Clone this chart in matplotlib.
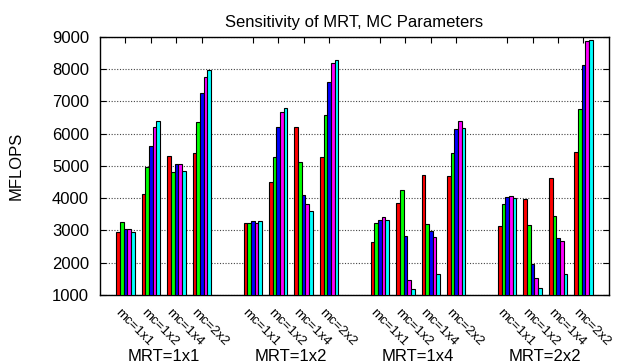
import matplotlib
matplotlib.use("Agg")
import matplotlib.pyplot as plt
import numpy as np

plt.rcParams["font.family"] = ["Liberation Sans", "DejaVu Sans"]

# Chart data
mrt_groups = ["MRT=1x1", "MRT=1x2", "MRT=1x4", "MRT=2x2"]
mc_labels = ["mc=1x1", "mc=1x2", "mc=1x4", "mc=2x2"]
bar_colors = ["#ff0000", "#00ff00", "#0000ff", "#ff00ff", "#00ffff"]

# values[group][mc] -> 5 bars (red, green, blue, magenta, cyan)
mrt_1x1 = [[2950, 3260, 3040, 3040, 2950],
           [4130, 4960, 5610, 6200, 6410],
           [5300, 4800, 5050, 5050, 4840],
           [5400, 6350, 7270, 7770, 7970]]
mrt_1x2 = [[3230, 3220, 3290, 3230, 3290],
           [4500, 5280, 6210, 6670, 6810],
           [6210, 5110, 4100, 3830, 3590],
           [5280, 6570, 7600, 8190, 8290]]
mrt_1x4 = [[2650, 3240, 3330, 3410, 3320],
           [3860, 4240, 2840, 1470, 1200],
           [4710, 3200, 2990, 2800, 1660],
           [4700, 5400, 6140, 6390, 6170]]
mrt_2x2 = [[3130, 3830, 4040, 4070, 4010],
           [3970, 3180, 1970, 1540, 1220],
           [4620, 3440, 2760, 2680, 1660],
           [5420, 6760, 8120, 8860, 8900]]
all_groups = [mrt_1x1, mrt_1x2, mrt_1x4, mrt_2x2]

fig = plt.figure(figsize=(6.22, 3.64), dpi=100)
ax = fig.add_axes([0.1608, 0.1896, 0.8182, 0.7088])

width = 0.144
positions = []
for g, group in enumerate(all_groups):
    for m, vals in enumerate(group):
        x = g * 5 + m
        positions.append(x)
        for i, v in enumerate(vals):
            ax.bar(x + (i - 2) * width, v - 1000, bottom=1000, width=width,
                   color=bar_colors[i], edgecolor="black", linewidth=0.8, zorder=3)

ax.set_xlim(-1, 19)
ax.set_ylim(1000, 9000)
ax.set_yticks(range(1000, 9001, 1000))
ax.yaxis.grid(True, linestyle=(0, (1, 1.5)), color="#444444", linewidth=0.8)
ax.set_axisbelow(True)
ax.tick_params(axis="y", direction="in", right=True, length=4, labelsize=12, pad=8)
ax.set_xticks(positions)
ax.set_xticklabels([])
ax.tick_params(axis="x", direction="in", top=True, bottom=True, length=4)
for s in ax.spines.values():
    s.set_linewidth(1.0)

trans = ax.get_xaxis_transform()
for g in range(4):
    for m in range(4):
        x = g * 5 + m
        ax.text(x - 0.15, -0.045, mc_labels[m], transform=trans, rotation=-45,
                rotation_mode="anchor", ha="left", va="top", fontsize=9.5)
    ax.text(g * 5 + 1.5, -0.21, mrt_groups[g], transform=trans,
            ha="center", va="top", fontsize=12)

ax.set_ylabel("MFLOPS", fontsize=12, labelpad=20)
ax.set_title("Sensitivity of MRT, MC Parameters", fontsize=12, pad=7)

fig.savefig("out.png", dpi=100)
